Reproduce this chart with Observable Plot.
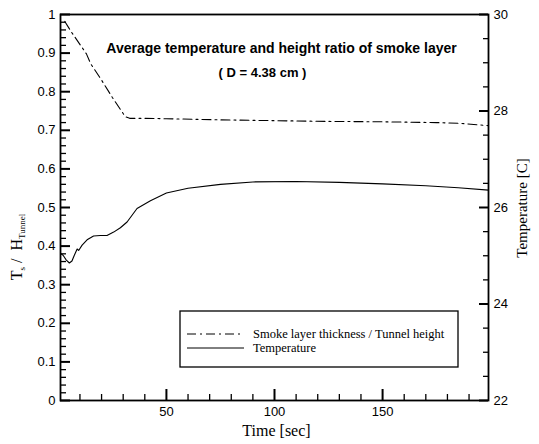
<!DOCTYPE html>
<html>
<head>
<meta charset="utf-8">
<script src="https://cdn.jsdelivr.net/npm/d3@7"></script>
<script src="https://cdn.jsdelivr.net/npm/@observablehq/plot@0.6"></script>
<style>
  html, body { margin: 0; padding: 0; background: #fff; }
  #chart { position: relative; width: 539px; height: 444px; }
  #chart svg { font-family: 'Liberation Sans', Arial, sans-serif; font-size: 13px; color: black; background: white; }
</style>
</head>
<body>
<div id="chart"></div>
<script>
// ---- data ----
const smokeTime = [3, 6, 13, 15, 20, 25, 31, 33, 40, 50, 75, 100, 125, 150, 175, 186, 199];
const smokeRatio = [0.982, 0.955, 0.898, 0.872, 0.83, 0.785, 0.735, 0.731, 0.731, 0.730, 0.727, 0.725, 0.723, 0.722, 0.72, 0.718, 0.712];

const tempTime = [1.2, 2.2, 3.7, 5.1, 6.3, 7.4, 8.7, 9.4, 11.0, 13.3, 16.3, 19.4, 22.5, 25.6, 28.7, 31.8, 36.4, 42.6, 50, 60, 75, 90, 110, 130, 150, 170, 185, 199];
const temperature = [25.04, 25.01, 24.91, 24.85, 24.89, 25.01, 25.14, 25.11, 25.22, 25.33, 25.41, 25.42, 25.42, 25.49, 25.58, 25.70, 25.98, 26.14, 26.30, 26.40, 26.48, 26.53, 26.54, 26.52, 26.49, 26.45, 26.41, 26.36];

const timeTicks = [50, 100, 150];
const timeMinorTicks = [10, 20, 30, 40, 60, 70, 80, 90, 110, 120, 130, 140, 160, 170, 180, 190];
const ratioTicks = [0, 0.1, 0.2, 0.3, 0.4, 0.5, 0.6, 0.7, 0.8, 0.9, 1];
const ratioMinorTicks = [0.02, 0.04, 0.06, 0.08, 0.12, 0.14, 0.16, 0.18, 0.22, 0.24, 0.26, 0.28, 0.32, 0.34, 0.36, 0.38, 0.42, 0.44, 0.46, 0.48, 0.52, 0.54, 0.56, 0.58, 0.62, 0.64, 0.66, 0.68, 0.72, 0.74, 0.76, 0.78, 0.82, 0.84, 0.86, 0.88, 0.92, 0.94, 0.96, 0.98];
const tempTicks = [22, 24, 26, 28, 30];
const tempMinorTicks = [22.5, 23, 23.5, 24.5, 25, 25.5, 26.5, 27, 27.5, 28.5, 29, 29.5];

const titleText = "Average temperature and height ratio of smoke layer";
const subtitleText = "( D = 4.38 cm )";
const xLabel = "Time [sec]";
const yRightLabel = "Temperature [C]";
const legendLabels = ["Smoke layer thickness / Tunnel height", "Temperature"];

// ---- layout ----
const W = 539, H = 444;
const mL = 60, mR = 51, mT = 14, mB = 44;
const PW = W - mL - mR, PH = H - mT - mB;

const tMin = 22, tMax = 30;
const toRatio = T => (T - tMin) / (tMax - tMin);

const smokeData = smokeTime.map((t, i) => ({t, v: smokeRatio[i]}));
const tempData = tempTime.map((t, i) => ({t, T: temperature[i]}));

const plot = Plot.plot({
  width: W, height: H,
  marginLeft: mL, marginRight: mR, marginTop: mT, marginBottom: mB,
  x: {domain: [1, 199]},
  y: {domain: [0, 1]},
  marks: [
    Plot.axisY({ticks: ratioTicks, anchor: "left", tickSize: 0, tickPadding: 5, label: null,
      tickFormat: d => (d === 0 || d === 1) ? String(d) : d.toFixed(1), fontSize: 13}),
    Plot.axisY({ticks: tempTicks.map(toRatio), anchor: "right", tickSize: 0, tickPadding: 5, label: null,
      tickFormat: d => String(Math.round(tMin + d * (tMax - tMin))), fontSize: 13}),
    Plot.axisX({ticks: timeTicks, tickSize: 0, tickPadding: 6, label: null, fontSize: 13}),
    Plot.line(smokeData, {x: "t", y: "v", stroke: "black", strokeWidth: 1.1, strokeDasharray: "9,4,2,4"}),
    Plot.line(tempData, {x: "t", y: d => toRatio(d.T), stroke: "black", strokeWidth: 1.1}),
    Plot.frame({stroke: "black", strokeWidth: 1.8}),
    // inward ticks
    Plot.tickY(ratioMinorTicks, {y: d => d, insetRight: PW - 6, stroke: "black", strokeWidth: 1.3}),
    Plot.tickY(ratioTicks, {y: d => d, insetRight: PW - 10, stroke: "black", strokeWidth: 2}),
    Plot.tickY(tempMinorTicks, {y: d => toRatio(d), insetLeft: PW - 5, stroke: "black", strokeWidth: 1.3}),
    Plot.tickY(tempTicks, {y: d => toRatio(d), insetLeft: PW - 9, stroke: "black", strokeWidth: 2}),
    Plot.tickX(timeMinorTicks, {x: d => d, insetTop: PH - 6, stroke: "black", strokeWidth: 1.3}),
    Plot.tickX(timeTicks, {x: d => d, insetTop: PH - 11, stroke: "black", strokeWidth: 2}),
    Plot.text([titleText], {text: d => d, frameAnchor: "top", dx: 7, dy: 29, fontWeight: "bold", fontSize: 14, fill: "black"}),
    Plot.text([subtitleText], {text: d => d, frameAnchor: "top", dx: -12, dy: 53, fontWeight: "bold", fontSize: 13, fill: "black"}),
    Plot.text([xLabel], {text: d => d, frameAnchor: "bottom", dx: 2, dy: 35, fontFamily: "'Liberation Serif', 'Times New Roman', serif", fontSize: 16, fill: "black"})
  ]
});

const svg = d3.select(plot);

// left y title with subscripts
const yl = svg.append("text")
  .attr("transform", "translate(22,247) rotate(-90)")
  .attr("text-anchor", "middle")
  .attr("font-family", "'Liberation Serif', 'Times New Roman', serif")
  .attr("font-size", 16)
  .attr("fill", "black");
yl.append("tspan").text("T");
yl.append("tspan").attr("font-size", 9).attr("dy", 3).text("s");
yl.append("tspan").attr("dy", -3).text(" /  H");
yl.append("tspan").attr("font-size", 9).attr("dy", 3).text("Tunnel");

// right y title
svg.append("text")
  .attr("transform", "translate(527,208) rotate(-90)")
  .attr("text-anchor", "middle")
  .attr("font-family", "'Liberation Serif', 'Times New Roman', serif")
  .attr("font-size", 15)
  .attr("fill", "black")
  .text(yRightLabel);

// legend box
const lg = svg.append("g").attr("transform", "translate(180,311)");
lg.append("rect").attr("width", 278).attr("height", 56).attr("fill", "white").attr("stroke", "black").attr("stroke-width", 1.3);
const rows = [{dash: "9,4,2,4", y: 23}, {dash: null, y: 37}];
rows.forEach((r, i) => {
  const ln = lg.append("line").attr("x1", 7).attr("x2", 64).attr("y1", r.y).attr("y2", r.y)
    .attr("stroke", "black").attr("stroke-width", 1);
  if (r.dash) ln.attr("stroke-dasharray", r.dash);
  lg.append("text").attr("x", 73).attr("y", r.y).attr("dy", "0.35em")
    .attr("text-anchor", "start")
    .attr("font-family", "'Liberation Serif', 'Times New Roman', serif")
    .attr("font-size", 12.5).attr("fill", "black").text(legendLabels[i]);
});

document.getElementById("chart").appendChild(plot);
</script>
</body>
</html>
